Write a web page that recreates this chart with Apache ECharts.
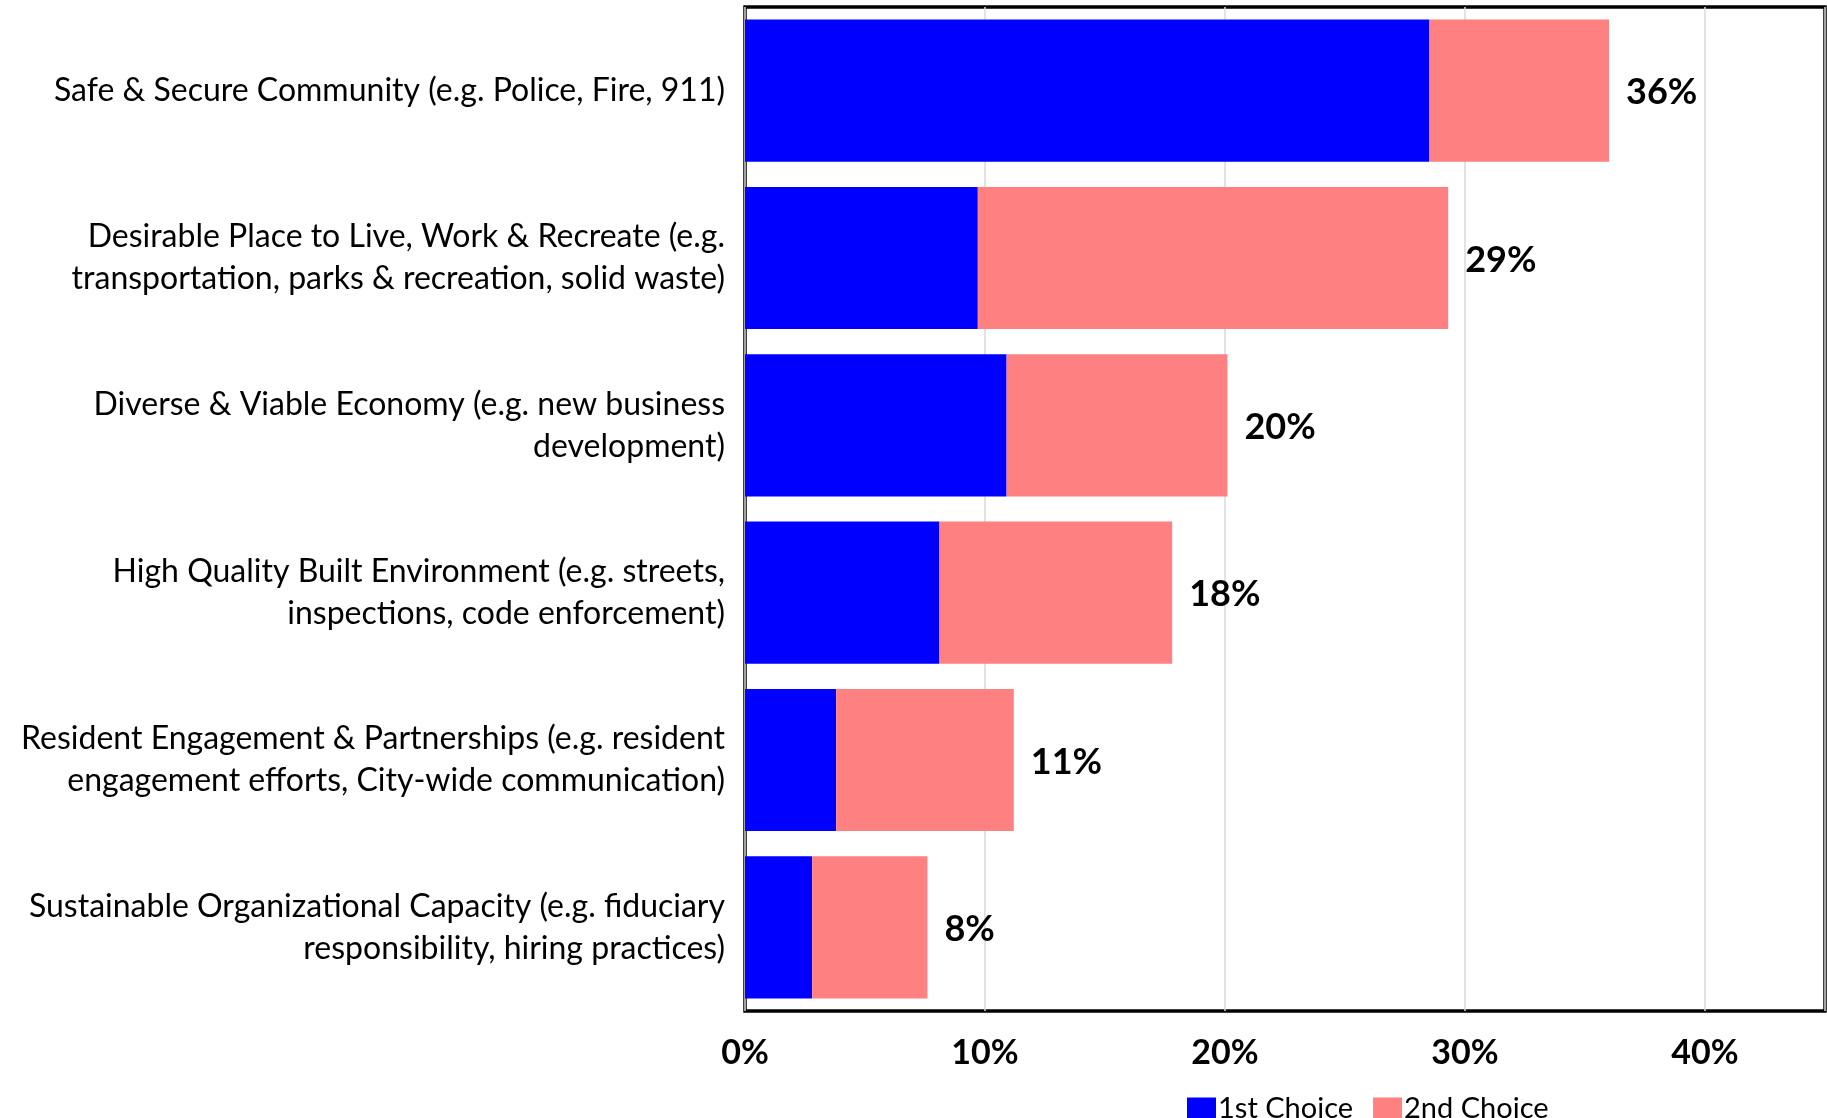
<!DOCTYPE html>
<html>
<head>
<meta charset="utf-8">
<title>Priorities</title>
<script src="https://cdn.jsdelivr.net/npm/echarts@6/dist/echarts.min.js"></script>
<style>
  html, body { margin: 0; padding: 0; background: #fff; }
  #chart { width: 1827px; height: 1118px; }
</style>
</head>
<body>
<div id="chart"></div>
<script>
// Priority areas, top to bottom
const categories = [
  'Safe & Secure Community (e.g. Police, Fire, 911)',
  'Desirable Place to Live, Work & Recreate (e.g.\ntransportation, parks & recreation, solid waste)',
  'Diverse & Viable Economy (e.g. new business\ndevelopment)',
  'High Quality Built Environment (e.g. streets,\ninspections, code enforcement)',
  'Resident Engagement & Partnerships (e.g. resident\nengagement efforts, City-wide communication)',
  'Sustainable Organizational Capacity (e.g. fiduciary\nresponsibility, hiring practices)'
];
// Share of respondents (%)
const firstChoice  = [28.5, 9.7, 10.9, 8.1, 3.8, 2.8];
const secondChoice = [7.5, 19.6, 9.2, 9.7, 7.4, 4.8];
const seriesNames  = ['1st Choice', '2nd Choice'];
const axisTicks    = [0, 10, 20, 30, 40];

const totals = firstChoice.map((v, i) => v + secondChoice[i]);
const FONT = 'Lato, "Open Sans", sans-serif';

const chart = echarts.init(document.getElementById('chart'), null, { renderer: 'canvas' });
chart.setOption({
  animation: false,
  backgroundColor: '#ffffff',
  textStyle: { fontFamily: FONT, color: '#000' },
  grid: {
    left: 745, right: 2, top: 7, bottom: 107,
    show: true, borderColor: '#000', borderWidth: 3.5, backgroundColor: 'transparent'
  },
  legend: {
    data: seriesNames,
    left: 1182, top: 1089,
    itemWidth: 29, itemHeight: 22, itemGap: 20,
    icon: 'rect',
    textStyle: { fontFamily: FONT, fontSize: 29, color: '#000', padding: [0, 0, 0, -3] }
  },
  xAxis: {
    type: 'value',
    min: axisTicks[0], max: 45, interval: axisTicks[1] - axisTicks[0],
    axisLine: { show: false },
    axisTick: { show: false },
    splitLine: { show: true, lineStyle: { color: '#d9d9d9', width: 1.5 } },
    axisLabel: {
      showMaxLabel: false,
      margin: 25,
      fontFamily: FONT, fontSize: 34, fontWeight: 'bold', color: '#000',
      formatter: v => v + '%'
    }
  },
  yAxis: {
    type: 'category',
    inverse: true,
    data: categories,
    axisLine: { show: false },
    axisTick: { show: false },
    axisLabel: {
      margin: 20,
      fontFamily: FONT, fontSize: 32, lineHeight: 42, color: '#000', align: 'right'
    }
  },
  series: [
    {
      name: seriesNames[0], type: 'bar', stack: 'total',
      barCategoryGap: '15%',
      itemStyle: { color: '#0000ff' },
      data: firstChoice
    },
    {
      name: seriesNames[1], type: 'bar', stack: 'total',
      barCategoryGap: '15%',
      itemStyle: { color: '#ff8080' },
      data: secondChoice,
      label: {
        show: true, position: 'right', distance: 17, offset: [0, 2],
        fontFamily: FONT, fontSize: 36, fontWeight: 'bold', color: '#000',
        formatter: p => Math.round(totals[p.dataIndex]) + '%'
      }
    }
  ]
});
</script>
</body>
</html>
